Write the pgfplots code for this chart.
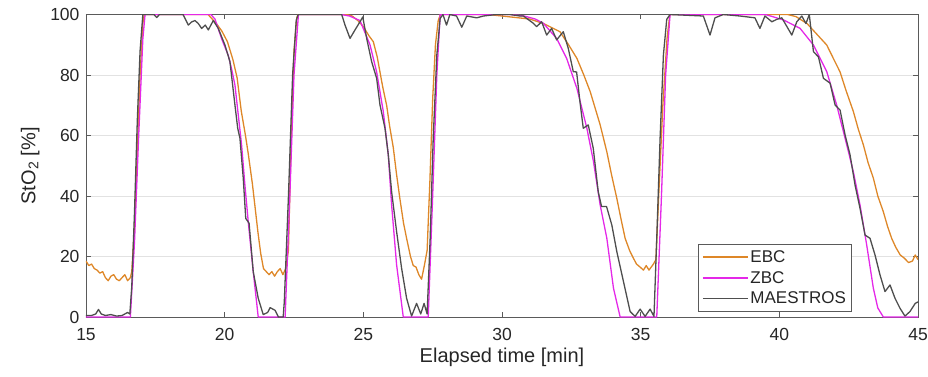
\documentclass[border=0pt]{standalone}
\usepackage{pgfplots}
\pgfplotsset{compat=1.18}
\usepackage{fontspec}
\setmainfont{Liberation Sans}
\definecolor{ebc}{RGB}{222,135,40}
\definecolor{zbc}{RGB}{228,40,232}
\definecolor{mae}{RGB}{78,78,78}
\definecolor{axc}{RGB}{90,90,90}
\definecolor{txc}{RGB}{38,38,38}
\definecolor{grc}{RGB}{226,226,226}
\begin{document}
\begin{tikzpicture}
\begin{axis}[
  name=ax,
  scale only axis, width=832pt, height=302.5pt,
  xmin=15, xmax=45, ymin=0, ymax=100,
  xtick={15,20,...,45}, ytick={0,20,...,100},
  tick align=inside, major tick length=5pt,
  tick style={axc, line width=0.6pt},
  axis line style={axc, line width=0.8pt},
  ymajorgrids, grid style={grc, line width=0.8pt},
  /pgf/number format/assume math mode=true,
  ticklabel style={font=\fontsize{17.5}{20}\selectfont, text=txc},
  xticklabel style={yshift=-8pt},
  yticklabel style={xshift=-3pt},
  label style={font=\fontsize{20}{24}\selectfont, text=txc},
  xlabel={Elapsed time [min]},
  ylabel={StO$_{\mathrm{2}}$ [\%]},
  xlabel style={yshift=0pt},
  ylabel style={yshift=4pt},
  clip=true,
  legend style={at={(0.921,0.017)}, anchor=south east, draw=axc, line width=0.8pt,
    font=\fontsize{17}{20}\selectfont, text=txc, inner sep=4pt, row sep=3.5pt},
  legend cell align=left,
  legend image code/.code={\draw[#1] (0pt,0pt) -- (45pt,0pt);},
  every axis plot/.append style={line width=1.3pt, line join=round},
]
\addplot[ebc] coordinates {
(15.0,18.5)(15.1,17)(15.2,17.5)(15.3,16)(15.4,15.5)(15.5,14.5)(15.6,15)(15.7,13)(15.8,12)(15.9,13.5)(16.0,14)(16.1,12.5)(16.2,12)(16.3,13)(16.4,14)(16.5,12)(16.6,13)(16.65,15)(16.75,30)(16.85,55)(16.95,80)(17.05,97)(17.1,100)
(19.4,100)(19.5,99)(19.7,97)(19.9,94.5)(20.1,91)(20.3,85)(20.45,79)(20.6,68)(20.75,60)(20.85,54)(21.0,44)(21.1,36)(21.2,28)(21.3,21)(21.4,16)(21.5,15)(21.6,14)(21.7,15)(21.8,13.5)(21.9,15)(22.0,16)(22.1,14)(22.2,16)(22.3,22)(22.4,60)(22.5,88)(22.6,99)(22.65,100)
(24.4,100)(24.6,99.5)(24.8,98)(25.0,96)(25.2,93)(25.36,91)(25.5,86)(25.6,81)(25.7,76)(25.84,70)(25.95,63)(26.08,56)(26.2,47)(26.32,39)(26.45,31)(26.56,26)(26.7,20)(26.8,17)(26.9,16.5)(27.0,14)(27.1,12.5)(27.2,17)(27.3,22)(27.4,45)(27.5,72)(27.6,90)(27.7,98)(27.78,100)
(29.5,100)(30.0,99.5)(30.5,99)(31.0,98.5)(31.5,97)(32.09,94.3)(32.4,90)(32.7,85.5)(32.95,80)(33.18,74.5)(33.36,69)(33.54,63.5)(33.78,54.6)(33.95,47)(34.14,39.2)(34.3,32)(34.44,26)(34.6,22)(34.74,19.4)(34.85,17.5)(34.98,16.5)(35.1,15.5)(35.2,17)(35.3,15.5)(35.46,17.5)(35.55,19)(35.65,40)(35.8,70)(35.95,92)(36.05,100)
(40.3,100)(40.6,99.3)(41.0,97)(41.3,94)(41.71,89.9)(42.0,84.5)(42.19,81)(42.4,75)(42.67,67.9)(42.85,62)(43.03,56.9)(43.2,51)(43.39,45.9)(43.55,40)(43.75,34.8)(43.9,30)(44.05,26)(44.2,23)(44.36,20.5)(44.5,19.5)(44.66,18)(44.8,18.5)(44.9,20.5)(45.0,19)
};
\addlegendentry{EBC}
\addplot[zbc] coordinates {
(15,0)(16.6,0)(16.75,25)(16.9,60)(17.05,92)(17.13,100)
(19.5,100)(19.65,98.5)(19.89,92)(20.13,86.5)(20.25,82)(20.37,76.7)(20.49,66.8)(20.61,56.9)(20.73,43.6)(20.85,31.5)(21.03,15)(21.21,0)(22.18,0)(22.35,40)(22.5,80)(22.66,100)
(24.2,100)(24.5,99.5)(24.88,98)(25.24,90)(25.48,81)(25.72,67.9)(25.9,53.6)(26.02,37)(26.2,17.2)(26.44,0)(27.34,0)(27.5,40)(27.65,80)(27.77,100)
(30.3,100)(30.8,99.5)(31.2,98.5)(31.49,97.1)(31.97,92.1)(32.33,85.5)(32.7,75.6)(33.06,62.4)(33.3,51.3)(33.54,37)(33.78,26)(34.02,9.5)(34.26,0)(35.58,0)(35.75,40)(35.9,80)(36.06,100)
(39.5,100)(40.15,98.2)(40.75,95.4)(41.23,89.9)(41.71,81.1)(42.07,70)(42.43,56.9)(42.67,48)(42.91,37)(43.15,23.8)(43.39,9.5)(43.55,3)(43.75,0)(45,0)
};
\addlegendentry{ZBC}
\addplot[mae] coordinates {
(15,0.5)(15.2,0.5)(15.35,1)(15.45,2.5)(15.55,1)(15.7,0.5)(15.9,0.8)(16.1,0.3)(16.3,0.5)(16.5,1.5)(16.58,1)(16.65,10)(16.75,35)(16.85,65)(16.95,88)(17.05,100)
(17.45,100)(17.55,99)(17.65,100)(18.5,100)(18.69,96.5)(18.8,97.5)(18.93,98)(19.05,97)(19.17,95.4)(19.3,96.5)(19.41,94.9)(19.59,98)
(19.77,95.4)(20.01,89.9)(20.19,84.4)(20.37,70.1)(20.47,62.4)(20.55,59.1)(20.67,45.9)(20.76,32.6)(20.88,31)(21.03,15)(21.21,6.2)(21.39,0.8)(21.55,1.5)(21.64,3.1)(21.82,2.2)(21.94,0)(22.11,0)(22.15,5)(22.3,40)(22.45,80)(22.58,98)(22.65,100)
(24.22,100)(24.34,96.5)(24.52,92.1)(24.7,94.9)(24.88,97.6)(24.98,99.2)(25.12,92.1)(25.3,84.4)(25.48,78.9)(25.6,70.1)(25.78,62.4)(25.9,53.6)(26.02,41.4)(26.2,28.2)(26.38,16.1)(26.56,6.2)(26.74,0.3)(26.92,4.5)(27.07,1)(27.19,4.5)(27.3,1)(27.41,26)(27.52,59.1)(27.65,86.6)(27.77,98.7)(27.87,100)(28.0,96.5)(28.12,100)(28.36,99.5)(28.55,95.8)(28.73,99.5)(29.09,98.9)(29.33,99.5)(29.8,100)(30.29,100)(30.65,99.5)
(30.77,99.5)(31.13,97.1)(31.25,96)(31.43,97.6)(31.61,93.2)(31.79,95.4)(31.97,91.6)(32.21,94.3)(32.39,88.8)(32.57,81.1)(32.69,81)(32.81,71.2)(32.93,62.4)(33.11,63.5)(33.29,55.8)(33.47,41.4)(33.59,36.5)(33.77,36.5)(33.96,30.4)(34.14,21.6)(34.38,11.7)(34.62,1.8)(34.8,0.2)(34.98,2.6)(35.16,0.2)(35.34,2.6)(35.48,0.2)(35.58,26)(35.7,59)(35.82,86.6)(35.94,98.4)(36.06,100)
(37.26,99.5)(37.5,93.2)(37.68,98.9)(37.98,100)(38.58,99.5)(39.12,98.9)(39.3,95.4)(39.48,99.5)(39.73,97.6)(39.91,98.4)(40.09,98.9)(40.45,93.2)(40.63,97.6)(40.81,99.5)(40.96,97)(41.08,100)
(41.23,87.7)(41.41,86)(41.59,78.9)(41.83,77.3)(42.01,70.1)(42.19,68.4)(42.37,60.2)(42.55,53.6)(42.73,43.6)(42.91,35.9)(43.09,27.1)(43.27,26)(43.45,20.5)(43.63,13.9)(43.81,8.4)(43.99,10.6)(44.17,6.2)(44.35,2.9)(44.53,0.3)(44.71,1.8)(44.9,4.5)(45,5)
};
\addlegendentry{MAESTROS}
\end{axis}
\pgfresetboundingbox
\path[use as bounding box] ([shift={(-86pt,-60pt)}]ax.south west) rectangle ([shift={(10pt,14.5pt)}]ax.north east);
\end{tikzpicture}
\end{document}
